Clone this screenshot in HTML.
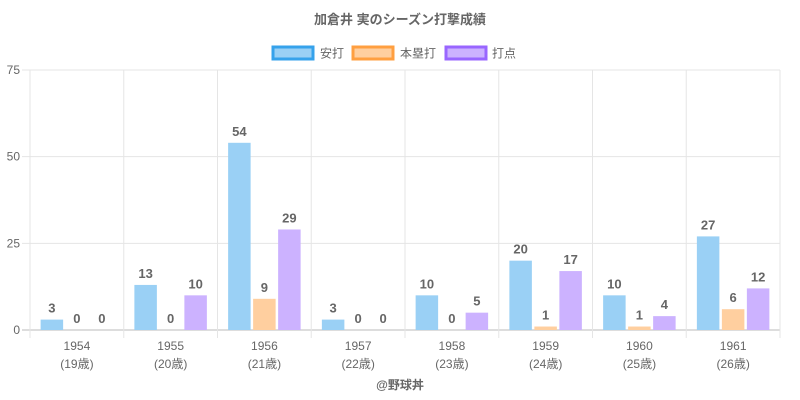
<!DOCTYPE html>
<html><head><meta charset="utf-8"><style>
body{margin:0;background:#fff}
svg{display:block}
text{font-family:"Liberation Sans","Noto Sans CJK JP",sans-serif}
</style></head><body>
<svg width="800" height="400" xmlns="http://www.w3.org/2000/svg" id="s">
<rect width="800" height="400" fill="#fff"/>
<text x="400" y="24" text-anchor="middle" font-size="13" font-weight="bold" fill="#666">加倉井 実のシーズン打撃成績</text>
<rect x="273" y="47" width="40" height="12" fill="#9ad0f5" stroke="#36a2eb" stroke-width="3"/>
<text x="320" y="57.5" font-size="12" fill="#666">安打</text>
<rect x="353" y="47" width="40" height="12" fill="#ffcf9f" stroke="#ff9f40" stroke-width="3"/>
<text x="400" y="57.5" font-size="12" fill="#666">本塁打</text>
<rect x="446" y="47" width="40" height="12" fill="#ccb2ff" stroke="#9966ff" stroke-width="3"/>
<text x="492" y="57.5" font-size="12" fill="#666">打点</text>
<g id="g"></g>
<text x="400" y="389" text-anchor="middle" font-size="12" font-weight="bold" fill="#666">@野球丼</text>
</svg>
<script>
var g=document.getElementById('g'),h='';
var d=[[3,0,0],[13,0,10],[54,9,29],[3,0,0],[10,0,5],[20,1,17],[10,1,4],[27,6,12]];
var c=['#9ad0f5','#ffcf9f','#ccb2ff'];
[0,25,50,75].forEach(function(v){var y=330-v*260/75;
h+='<line x1="22" x2="780" y1="'+y+'" y2="'+y+'" stroke="'+(v==0?'#bbb':'#e5e5e5')+'"/>';
h+='<text x="20" y="'+(y+4)+'" text-anchor="end" font-size="12" fill="#666">'+v+'</text>';});
for(var i=0;i<=8;i++){var x=30+i*93.75;h+='<line x1="'+x+'" x2="'+x+'" y1="70" y2="338" stroke="#e5e5e5"/>';}
d.forEach(function(r,i){var x0=30+i*93.75;
h+='<text x="'+(x0+46.9)+'" y="350" text-anchor="middle" font-size="12" fill="#666">'+(1954+i)+'</text>';
h+='<text x="'+(x0+46.9)+'" y="368" text-anchor="middle" font-size="12" fill="#666">('+(19+i)+'歳)</text>';
r.forEach(function(v,j){var x=x0+9.375+j*25+1.25,hh=v*260/75,y=330-hh;
h+='<rect x="'+x+'" y="'+y+'" width="22.5" height="'+hh+'" fill="'+c[j]+'"/>';
h+='<text x="'+(x+11.25)+'" y="'+(y-7)+'" text-anchor="middle" font-size="13" font-weight="bold" fill="#666">'+v+'</text>';});});
g.innerHTML=h;
</script>
</body></html>
